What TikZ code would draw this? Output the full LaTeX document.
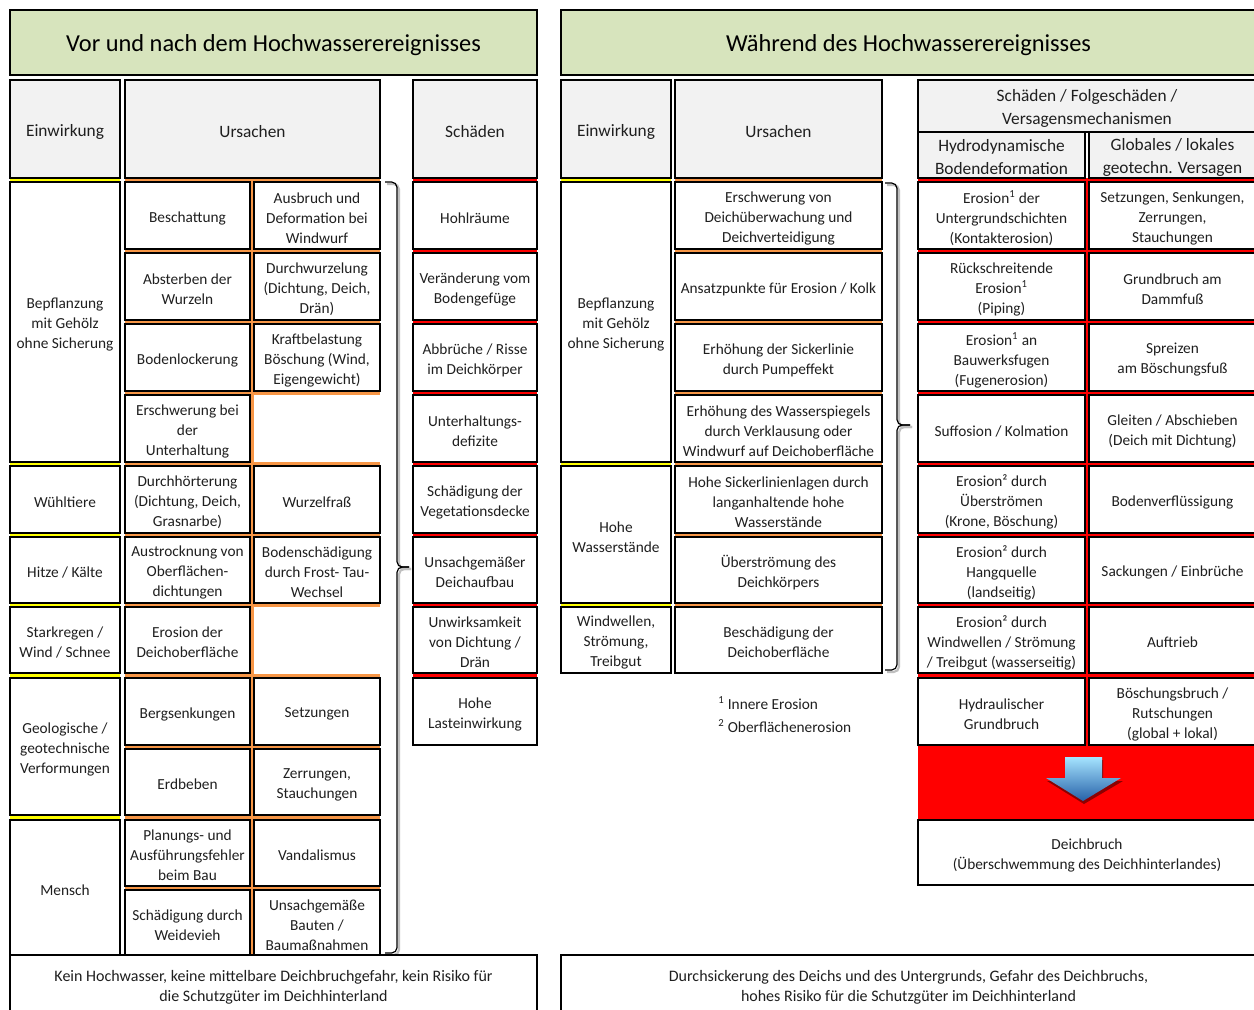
\documentclass[tikz,border=0pt]{standalone}
\usepackage{fontspec}
\setmainfont{Carlito}
\definecolor{titlegreen}{HTML}{D7E4BD}
\definecolor{hdrgray}{HTML}{F2F2F2}
\definecolor{orng}{HTML}{F79646}
\definecolor{ylw}{HTML}{FFFF00}
\definecolor{rd}{HTML}{FF0000}
\definecolor{txt}{HTML}{1F1F1F}
\newcommand\bdf{\fontsize{11.5}{15}\selectfont}
\newcommand\btf{\fontsize{12}{15}\selectfont}
\newcommand\hdf{\fontsize{13}{17.25}\selectfont}
\newcommand\ttf{\fontsize{18.3}{21}\selectfont}
\newcommand\bx[7][]{%
  \node[box,#1,minimum width={(#5-#3)*0.75pt},minimum height={(#6-#4)*0.75pt}] (#2) at ({(#3+#5)/2},{(#4+#6)/2}) {};
  \node[box,#1,draw=none,fill=none,yshift=-1.9pt] (#2t) at (#2.center) {#7};}
\begin{document}
\begin{tikzpicture}[x=0.75pt,y=-0.75pt,
  box/.style={draw=black,line width=1.3pt,fill=white,inner sep=1pt,align=center,font=\bdf,text=txt},
  hdr/.style={box,fill=hdrgray,font=\hdf},
  ttl/.style={box,fill=titlegreen,font=\ttf,text=black},
  yl/.style={draw=ylw,line width=2.4pt},
  ol/.style={draw=orng,line width=2.4pt},
  rl/.style={draw=rd,line width=2.4pt},
  brace/.style={draw=black,line width=0.9pt,rounded corners=4},
  braceshadow/.style={draw=black!25,line width=1.6pt,rounded corners=4},
]
\useasboundingbox (0,0) rectangle (1254,1010);
\fill[white] (0,0) rectangle (1254,1010);

% titles
\bx[ttl]{t1}{10}{10}{537}{75}{Vor und nach dem Hochwasserereignisses}
\bx[ttl]{t2}{561}{10}{1256}{75}{Während des Hochwasserereignisses}

% coloured separator lines
\foreach \y in {180,464,535,605,676,818} \draw[yl] (10,\y) -- (120,\y);
\foreach \y in {180,464,605} \draw[yl] (561,\y) -- (671,\y);
\foreach \y in {180,251,322,393,464,535,605,676,747,818,888} \draw[ol] (125,\y) -- (380,\y);
\draw[ol] (252,180) -- (252,955);
\foreach \y in {180,251,322,393,464,535,605} \draw[ol] (675,\y) -- (882,\y);
\foreach \y in {180,251,322,393,464,535,605,676} {\draw[rl] (413,\y) -- (537,\y); \draw[rl] (918,\y) -- (1256,\y);}
\draw[rl] (1087,180) -- (1087,745);
\bx[fill=rd,draw=none]{band}{918}{744}{1256}{820}{}

% headers
\bx[hdr]{he1}{10}{80}{120}{178}{Einwirkung}
\bx[hdr]{hu1}{125}{80}{380}{178}{Ursachen}
\bx[hdr]{hs1}{413}{80}{537}{178}{Schäden}
\bx[hdr]{he2}{561}{80}{671}{178}{Einwirkung}
\bx[hdr]{hu2}{675}{80}{882}{178}{Ursachen}
\bx[hdr]{hs2}{918}{80}{1256}{132}{Schäden / Folgeschäden /\\Versagensmechanismen}
\bx[hdr]{hh2}{918}{132}{1085}{178}{Hydrodynamische\\Bodendeformation}
\bx[hdr]{hg2}{1089}{132}{1256}{178}{Globales / lokales\\geotechn. Versagen}

% left Einwirkung
\bx{le1}{10}{182}{120}{462}{Bepflanzung\\mit Gehölz\\ohne Sicherung}
\bx{le2}{10}{466}{120}{533}{Wühltiere}
\bx{le3}{10}{537}{120}{603}{Hitze / Kälte}
\bx{le4}{10}{607}{120}{673}{Starkregen /\\Wind / Schnee}
\bx{le5}{10}{678}{120}{815}{Geologische /\\geotechnische\\Verformungen}
\bx{le6}{10}{820}{120}{955}{Mensch}

% left Ursachen
\bx{la1}{125}{182}{250}{249}{Beschattung}
\bx{lb1}{254}{182}{380}{249}{Ausbruch und\\Deformation bei\\Windwurf}
\bx{la2}{125}{253}{250}{320}{Absterben der\\Wurzeln}
\bx{lb2}{254}{253}{380}{320}{Durchwurzelung\\(Dichtung, Deich,\\Drän)}
\bx{la3}{125}{324}{250}{391}{Bodenlockerung}
\bx{lb3}{254}{324}{380}{391}{Kraftbelastung\\Böschung (Wind,\\Eigengewicht)}
\bx{la4}{125}{395}{250}{462}{Erschwerung bei\\der\\Unterhaltung}
\bx{la5}{125}{466}{250}{533}{Durchhörterung\\(Dichtung, Deich,\\Grasnarbe)}
\bx{lb5}{254}{466}{380}{533}{Wurzelfraß}
\bx{la6}{125}{537}{250}{603}{Austrocknung von\\Oberflächen-\\dichtungen}
\bx{lb6}{254}{537}{380}{603}{Bodenschädigung\\durch Frost- Tau-\\Wechsel}
\bx{la7}{125}{607}{250}{673}{Erosion der\\Deichoberfläche}
\bx{la8}{125}{678}{250}{745}{Bergsenkungen}
\bx{lb8}{254}{678}{380}{745}{Setzungen}
\bx{la9}{125}{749}{250}{815}{Erdbeben}
\bx{lb9}{254}{749}{380}{815}{Zerrungen,\\Stauchungen}
\bx{la10}{125}{820}{250}{886}{Planungs- und\\Ausführungsfehler\\beim Bau}
\bx{lb10}{254}{820}{380}{886}{Vandalismus}
\bx{la11}{125}{890}{250}{955}{Schädigung durch\\Weidevieh}
\bx{lb11}{254}{890}{380}{955}{Unsachgemäße\\Bauten /\\Baumaßnahmen}

% left Schäden
\bx{ls1}{413}{182}{537}{249}{Hohlräume}
\bx{ls2}{413}{253}{537}{320}{Veränderung vom\\Bodengefüge}
\bx{ls3}{413}{324}{537}{391}{Abbrüche / Risse\\im Deichkörper}
\bx{ls4}{413}{395}{537}{462}{Unterhaltungs-\\defizite}
\bx{ls5}{413}{466}{537}{533}{Schädigung der\\Vegetationsdecke}
\bx{ls6}{413}{537}{537}{603}{Unsachgemäßer\\Deichaufbau}
\bx{ls7}{413}{607}{537}{673}{Unwirksamkeit\\von Dichtung /\\Drän}
\bx{ls8}{413}{678}{537}{745}{Hohe\\Lasteinwirkung}

% left brace
\draw[braceshadow] (387,184) -| (399,569) -- (411,569);
\draw[braceshadow] (411,569) -- (399,569) |- (387,955);
\draw[brace] (385,182) -| (397,567) -- (409,567);
\draw[brace] (409,567) -- (397,567) |- (385,953);

% right Einwirkung
\bx{re1}{561}{182}{671}{462}{Bepflanzung\\mit Gehölz\\ohne Sicherung}
\bx{re2}{561}{466}{671}{603}{Hohe\\Wasserstände}
\bx{re3}{561}{607}{671}{673}{Windwellen,\\Strömung,\\Treibgut}

% right Ursachen
\bx{ru1}{675}{182}{882}{249}{Erschwerung von\\Deichüberwachung und\\Deichverteidigung}
\bx{ru2}{675}{253}{882}{320}{Ansatzpunkte für Erosion / Kolk}
\bx{ru3}{675}{324}{882}{391}{Erhöhung der Sickerlinie\\durch Pumpeffekt}
\bx{ru4}{675}{395}{882}{462}{Erhöhung des Wasserspiegels\\durch Verklausung oder\\Windwurf auf Deichoberfläche}
\bx{ru5}{675}{466}{882}{533}{Hohe Sickerlinienlagen durch\\langanhaltende hohe\\Wasserstände}
\bx{ru6}{675}{537}{882}{603}{Überströmung des\\Deichkörpers}
\bx{ru7}{675}{607}{882}{673}{Beschädigung der\\Deichoberfläche}

% right brace
\draw[braceshadow] (887,185) -| (899,427) -- (912,427);
\draw[braceshadow] (912,427) -- (899,427) |- (887,672);
\draw[brace] (885,183) -| (897,425) -- (910,425);
\draw[brace] (910,425) -- (897,425) |- (885,670);

% footnotes
\node[anchor=west,font=\bdf,text=txt,inner sep=0pt] (fn1) at (718,703) {\textsuperscript{1} Innere Erosion};
\node[anchor=west,font=\bdf,text=txt,inner sep=0pt] (fn2) at (718,726) {\textsuperscript{2} Oberflächenerosion};

% right Schäden
\bx{rh1}{918}{182}{1085}{249}{Erosion\textsuperscript{1} der\\Untergrundschichten\\(Kontakterosion)}
\bx{rg1}{1089}{182}{1256}{249}{Setzungen, Senkungen,\\Zerrungen,\\Stauchungen}
\bx{rh2}{918}{253}{1085}{320}{Rückschreitende\\Erosion\textsuperscript{1}\\(Piping)}
\bx{rg2}{1089}{253}{1256}{320}{Grundbruch am\\Dammfuß}
\bx{rh3}{918}{324}{1085}{391}{Erosion\textsuperscript{1} an\\Bauwerksfugen\\(Fugenerosion)}
\bx{rg3}{1089}{324}{1256}{391}{Spreizen\\am Böschungsfuß}
\bx{rh4}{918}{395}{1085}{462}{Suffosion / Kolmation}
\bx{rg4}{1089}{395}{1256}{462}{Gleiten / Abschieben\\(Deich mit Dichtung)}
\bx{rh5}{918}{466}{1085}{533}{Erosion² durch\\Überströmen\\(Krone, Böschung)}
\bx{rg5}{1089}{466}{1256}{533}{Bodenverflüssigung}
\bx{rh6}{918}{537}{1085}{603}{Erosion² durch\\Hangquelle\\(landseitig)}
\bx{rg6}{1089}{537}{1256}{603}{Sackungen / Einbrüche}
\bx{rh7}{918}{607}{1085}{673}{Erosion² durch\\Windwellen / Strömung\\/ Treibgut (wasserseitig)}
\bx{rg7}{1089}{607}{1256}{673}{Auftrieb}
\bx{rh8}{918}{678}{1085}{745}{Hydraulischer\\Grundbruch}
\bx{rg8}{1089}{678}{1256}{745}{Böschungsbruch /\\Rutschungen\\(global + lokal)}

% blue arrow
\fill[black!45!red] (1066,760) -- (1103,760) -- (1103,781) -- (1123,781) -- (1084,804) -- (1047,781) -- (1066,781) -- cycle;
\shade[top color=blue!30!cyan!35!white, bottom color=blue!55!cyan!60!black!85] (1065,757) -- (1102,757) -- (1102,778) -- (1121,778) -- (1083,801) -- (1046,778) -- (1065,778) -- cycle;

\bx{db}{918}{820}{1256}{885}{Deichbruch\\(Überschwemmung des Deichhinterlandes)}

% bottom boxes
\bx[font=\btf]{bot1}{10}{955}{537}{1015}{Kein Hochwasser, keine mittelbare Deichbruchgefahr, kein Risiko für\\die Schutzgüter im Deichhinterland}
\bx[font=\btf]{bot2}{561}{955}{1256}{1015}{Durchsickerung des Deichs und des Untergrunds, Gefahr des Deichbruchs,\\hohes Risiko für die Schutzgüter im Deichhinterland}
\end{tikzpicture}
\end{document}
